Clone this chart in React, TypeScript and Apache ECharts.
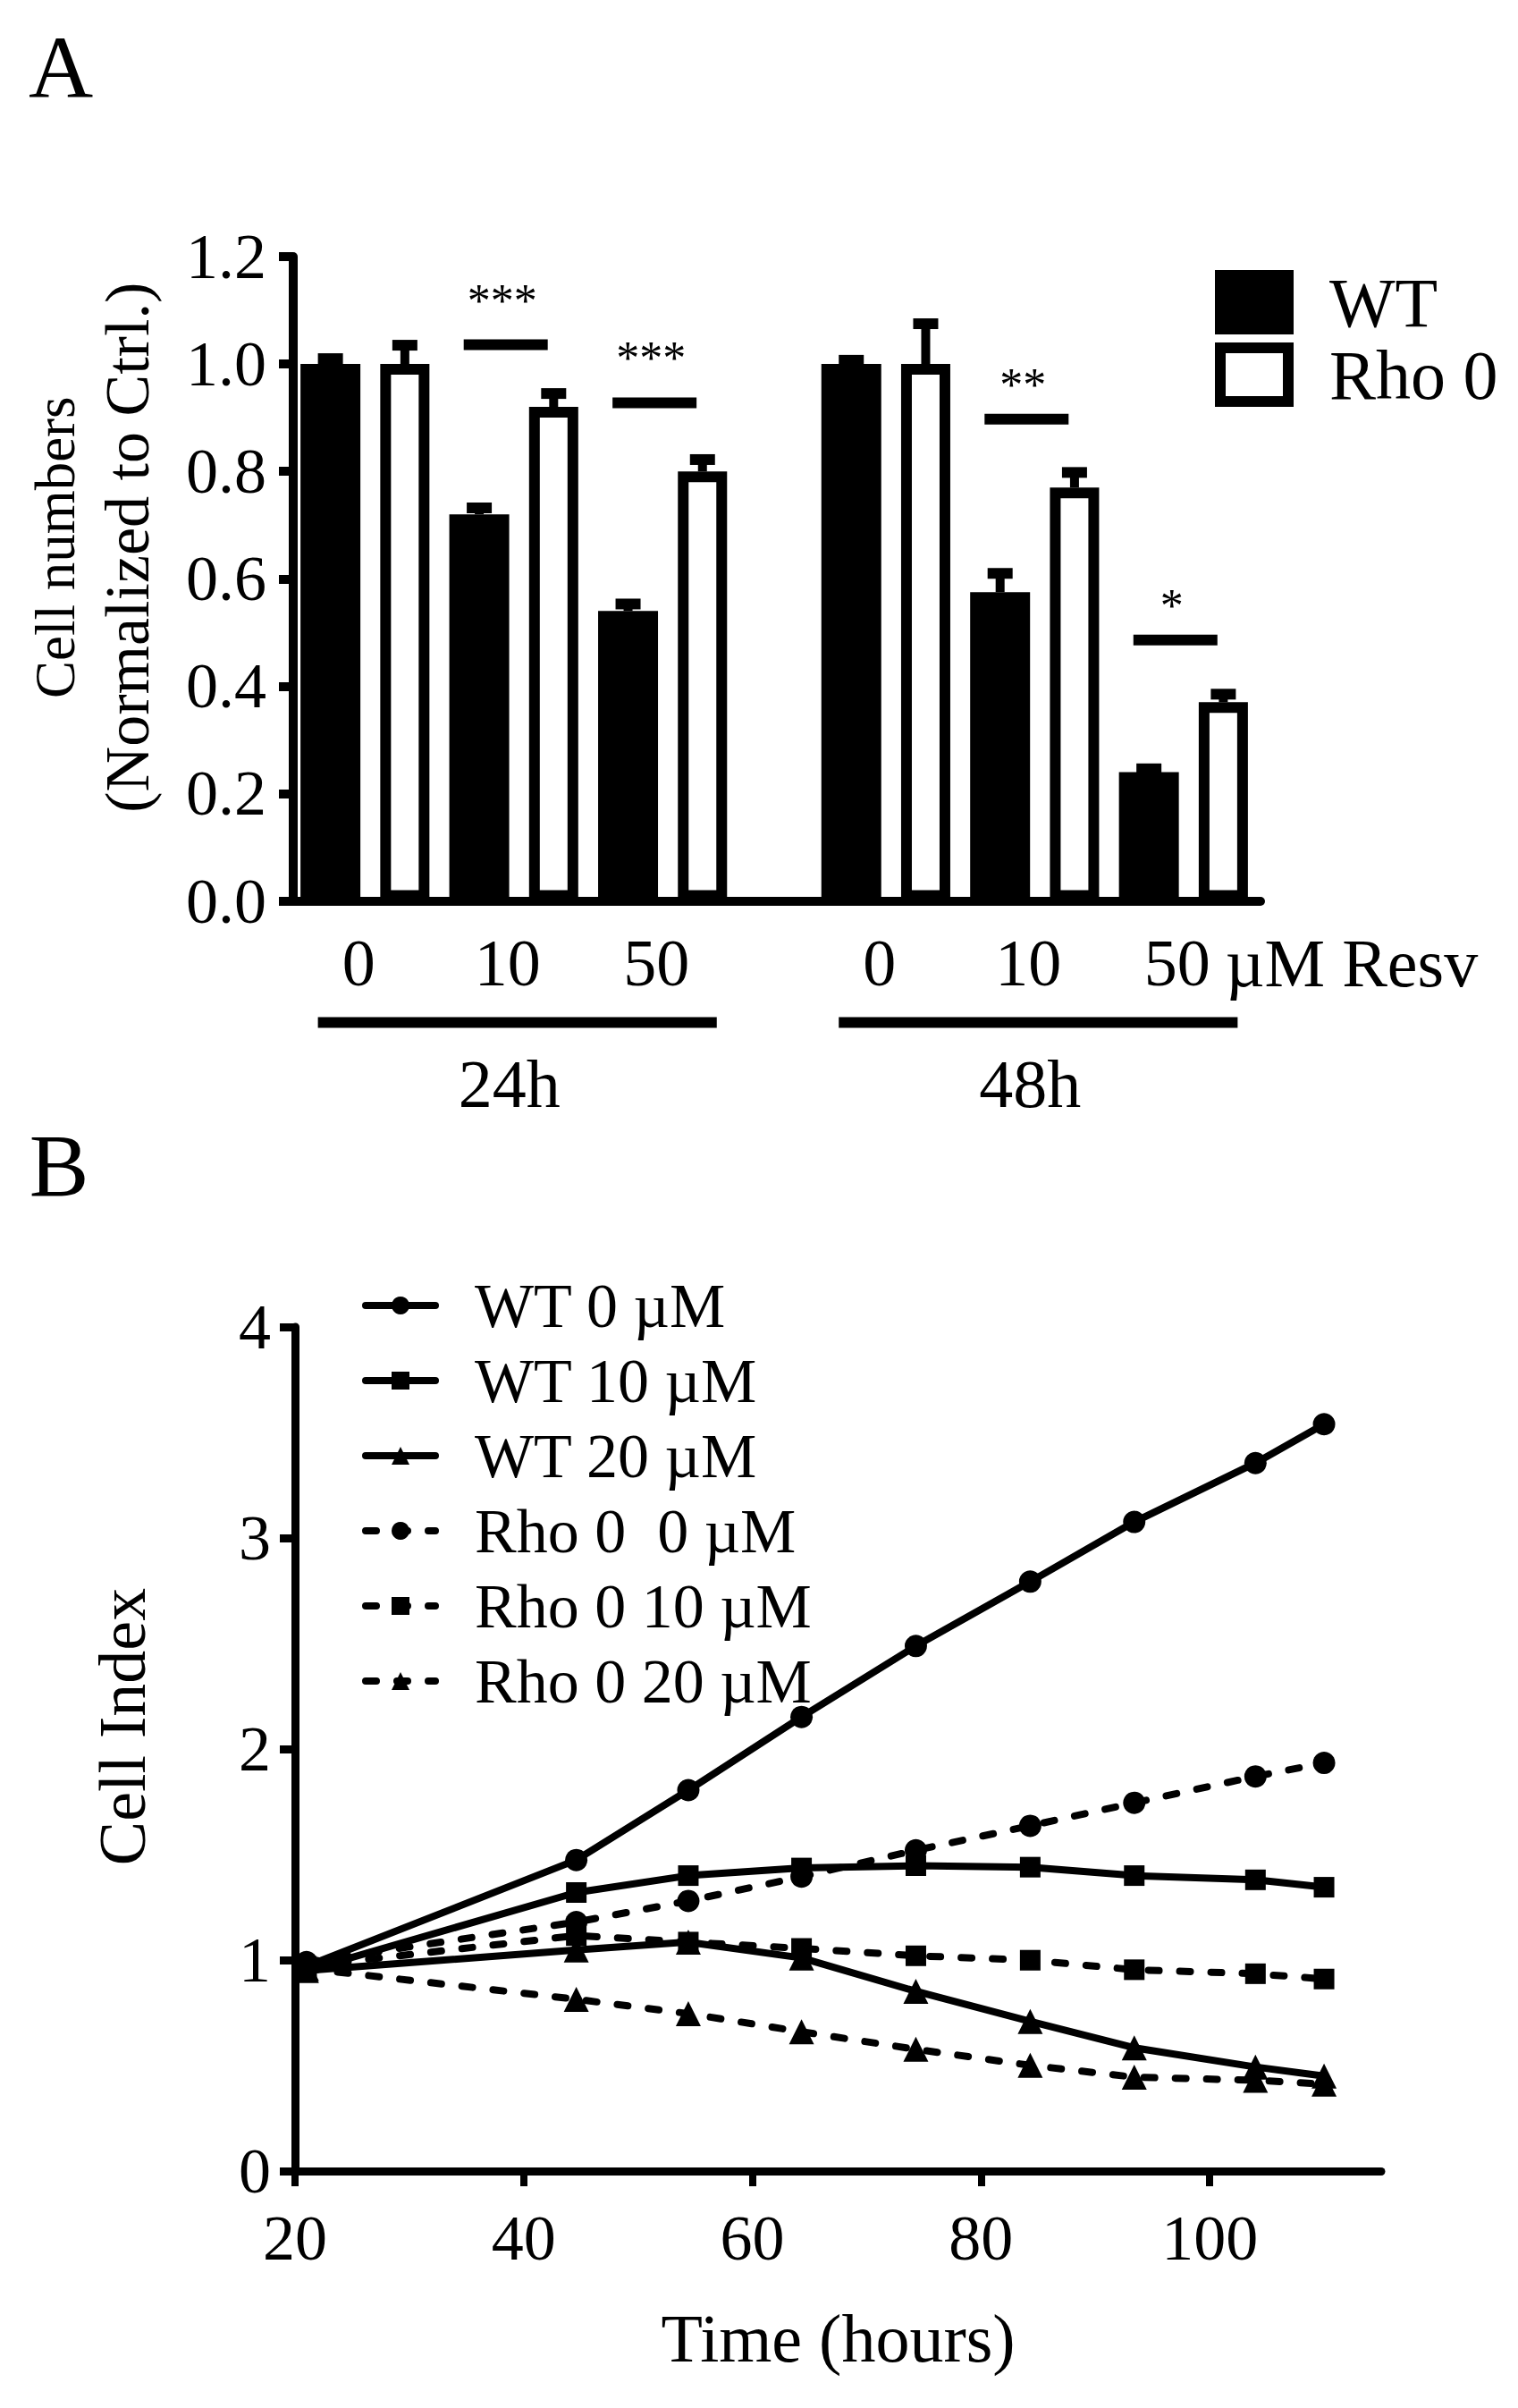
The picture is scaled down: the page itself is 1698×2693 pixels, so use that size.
import React, { useEffect, useRef } from "react";
import * as echarts from "echarts";

// ---------- Panel A data ----------
const doseLabels = ["0", "10", "50", "0", "10", "50"];
const unitLabel = "µM Resv";
const timeLabels = ["24h", "48h"];
const wtMeans = [1.0, 0.72, 0.54, 1.0, 0.575, 0.24];
const wtErr = [0.01, 0.012, 0.013, 0.007, 0.035, 0.006];
const rhoMeans = [1.0, 0.92, 0.8, 1.0, 0.77, 0.37];
const rhoErr = [0.035, 0.025, 0.022, 0.075, 0.028, 0.015];
const sigLabels = ["***", "***", "**", "*"];
const sigGroups = [1, 2, 4, 5];
const sigHeights = [1.036, 0.9275, 0.8975, 0.486];
const sigStarHeights = [1.1325, 1.026, 0.976, 0.564];

// ---------- Panel B data ----------
const hours = [21, 44.6, 54.4, 64.3, 74.3, 84.3, 93.4, 104, 110];
const wt0 = [0.97, 1.474, 1.805, 2.152, 2.488, 2.793, 3.076, 3.355, 3.539];
const wt10 = [0.95, 1.32, 1.4, 1.436, 1.447, 1.44, 1.4, 1.38, 1.345];
const wt20 = [0.95, 1.048, 1.085, 1.01, 0.852, 0.709, 0.584, 0.493, 0.45];
const rho0 = [0.99, 1.18, 1.28, 1.395, 1.52, 1.636, 1.745, 1.87, 1.934];
const rho10 = [0.97, 1.116, 1.085, 1.055, 1.02, 0.999, 0.954, 0.935, 0.91];
const rho20 = [0.96, 0.814, 0.746, 0.66, 0.577, 0.501, 0.445, 0.43, 0.412];
const timeTicks = [20, 40, 60, 80, 100];
const lineNames = ["WT 0 µM", "WT 10 µM", "WT 20 µM", "Rho 0 \u00a00 µM", "Rho 0 10 µM", "Rho 0 20 µM"];
const lineValues = [wt0, wt10, wt20, rho0, rho10, rho20];
const lineSymbols = ["circle", "rect", "triangle", "circle", "rect", "triangle"];
const lineDashed = [false, false, false, true, true, true];

const FONT = "'Liberation Serif', 'Times New Roman', serif";
const SLOTS = 13;
const wtSlot = (g: number) => (g < 3 ? 2 * g : 2 * g + 1);
const slotNames = Array.from({ length: SLOTS }, (_, i) => "s" + i);

function buildOption(): any {
  const wtBar: any[] = slotNames.map(() => "-");
  const rhoBar: any[] = slotNames.map(() => "-");
  wtMeans.forEach((v, g) => (wtBar[wtSlot(g)] = v));
  rhoMeans.forEach((v, g) => (rhoBar[wtSlot(g) + 1] = v));

  const errData = [
    ...wtMeans.map((v, g) => [wtSlot(g), v, wtErr[g]]),
    ...rhoMeans.map((v, g) => [wtSlot(g) + 1, v, rhoErr[g]]),
  ];
  const sigData = sigGroups.map((g, i) => [wtSlot(g), sigHeights[i], wtSlot(g) + 1, sigStarHeights[i]]);
  const doseData = doseLabels.map((_, g) => [wtSlot(g), 0, wtSlot(g) + 1]);
  const timeData = timeLabels.map((_, t) => [wtSlot(3 * t), 0, wtSlot(3 * t + 2) + 1]);

  const axisColor = "#000";
  const tickLabel = { color: "#000", fontSize: 72, fontFamily: FONT };

  const lineSeries = lineNames.map((name, k) => ({
    type: "line",
    name,
    xAxisIndex: 2,
    yAxisIndex: 1,
    data: hours.map((h, i) => [h, lineValues[k][i]]),
    symbol: lineSymbols[k],
    symbolSize: lineSymbols[k] === "circle" ? 25 : lineSymbols[k] === "rect" ? 23 : [28, 28],
    showSymbol: true,
    itemStyle: { color: "#000" },
    lineStyle: {
      color: "#000",
      width: 8,
      type: lineDashed[k] ? [12, 23] : "solid",
      cap: "round",
    },
    z: 3,
  }));

  return {
    animation: false,
    backgroundColor: "#fff",
    textStyle: { fontFamily: FONT, color: "#000" },
    grid: [
      { left: 328, top: 287, width: 1082, height: 720.5 },
      { left: 330, top: 1484, width: 1215, height: 944 },
    ],
    xAxis: [
      {
        type: "category",
        gridIndex: 0,
        data: slotNames,
        axisLine: { lineStyle: { color: axisColor, width: 10 } },
        axisTick: { show: false },
        axisLabel: { show: false },
      },
      { type: "category", gridIndex: 0, data: slotNames, show: false },
      {
        type: "value",
        gridIndex: 1,
        min: 20,
        max: 115,
        interval: 20,
        splitLine: { show: false },
        axisLine: { lineStyle: { color: axisColor, width: 9 } },
        axisTick: { length: 17, lineStyle: { width: 8, color: axisColor }, customValues: timeTicks },
        axisLabel: { ...tickLabel, margin: 39, lineHeight: 72, customValues: timeTicks },
        name: "Time (hours)",
        nameLocation: "middle",
        nameGap: 149,
        nameTextStyle: { fontSize: 76, fontFamily: FONT, color: "#000", lineHeight: 76 },
      },
    ],
    yAxis: [
      {
        type: "value",
        gridIndex: 0,
        min: 0,
        max: 1.2,
        interval: 0.2,
        splitLine: { show: false },
        axisLine: { show: true, lineStyle: { color: axisColor, width: 10 } },
        axisTick: { show: true, length: 16, lineStyle: { width: 10, color: axisColor } },
        axisLabel: { ...tickLabel, margin: 30, formatter: (v: number) => v.toFixed(1) },
        name: "{a|Cell numbers}\n{b|(Normalized to Ctrl.)}",
        nameLocation: "middle",
        nameRotate: 90,
        nameGap: 146,
        nameTextStyle: {
          fontFamily: FONT,
          color: "#000",
          padding: [0, 0, 0, 70],
          rich: {
            a: { fontSize: 63, lineHeight: 80, fontFamily: FONT, color: "#000" },
            b: { fontSize: 70, lineHeight: 80, fontFamily: FONT, color: "#000" },
          },
        },
      },
      {
        type: "value",
        gridIndex: 1,
        min: 0,
        max: 4,
        interval: 1,
        splitLine: { show: false },
        axisLine: { show: true, lineStyle: { color: axisColor, width: 9 } },
        axisTick: { show: true, length: 17, lineStyle: { width: 9, color: axisColor } },
        axisLabel: { ...tickLabel, margin: 27 },
        name: "Cell Index",
        nameLocation: "middle",
        nameRotate: 90,
        nameGap: 156,
        nameTextStyle: { fontSize: 74, fontFamily: FONT, color: "#000", lineHeight: 74, padding: [0, 0, 0, 50] },
      },
    ],
    legend: [
      {
        orient: "vertical",
        left: 1354,
        top: 294,
        icon: "rect",
        itemWidth: 76,
        itemHeight: 60,
        itemGap: 3,
        data: [
          { name: "WT", itemStyle: { color: "#000", borderColor: "#000", borderWidth: 12 } },
          { name: "Rho 0", itemStyle: { color: "#fff", borderColor: "#000", borderWidth: 12 } },
        ],
        textStyle: { fontSize: 78, fontFamily: FONT, color: "#000", padding: [0, 0, 0, 41] },
      },
      {
        orient: "vertical",
        left: 400,
        top: 1420,
        itemWidth: 78,
        itemHeight: 25,
        itemGap: 14,
        lineStyle: { width: 8, cap: "round" },
        data: lineNames,
        textStyle: { fontSize: 70, fontFamily: FONT, color: "#000", padding: [0, 0, 0, 39] },
      },
    ],
    graphic: [
      { type: "text", x: 68, y: 75, style: { text: "A", fontSize: 100, fontFamily: FONT, fill: "#000", align: "center", verticalAlign: "middle" } },
      { type: "text", x: 66, y: 1303, style: { text: "B", fontSize: 100, fontFamily: FONT, fill: "#000", align: "center", verticalAlign: "middle" } },
    ],
    series: [
      {
        type: "bar",
        name: "WT",
        xAxisIndex: 0,
        yAxisIndex: 0,
        data: wtBar,
        barWidth: 67,
        itemStyle: { color: "#000" },
        z: 2,
      },
      {
        type: "bar",
        name: "Rho 0",
        xAxisIndex: 1,
        yAxisIndex: 0,
        data: rhoBar,
        barWidth: 55,
        itemStyle: { color: "#fff", borderColor: "#000", borderWidth: 12 },
        z: 2,
      },
      {
        type: "custom",
        name: "errors",
        xAxisIndex: 0,
        yAxisIndex: 0,
        clip: false,
        z: 4,
        data: errData,
        encode: { x: 0, y: 1 },
        renderItem: (params: any, api: any) => {
          const base = api.coord([api.value(0), api.value(1)]);
          const top = api.coord([api.value(0), api.value(1) + api.value(2)]);
          return {
            type: "group",
            children: [
              { type: "line", shape: { x1: base[0], y1: base[1], x2: base[0], y2: top[1] }, style: { stroke: "#000", lineWidth: 10 } },
              { type: "line", shape: { x1: base[0] - 14, y1: top[1], x2: base[0] + 14, y2: top[1] }, style: { stroke: "#000", lineWidth: 12 } },
            ],
          };
        },
      },
      {
        type: "custom",
        name: "significance",
        xAxisIndex: 0,
        yAxisIndex: 0,
        clip: false,
        z: 4,
        data: sigData,
        encode: { x: 0, y: 1 },
        renderItem: (params: any, api: any) => {
          const a = api.coord([api.value(0), api.value(1)]);
          const b = api.coord([api.value(2), api.value(1)]);
          const s = api.coord([api.value(0), api.value(3)]);
          const mid = (a[0] + b[0]) / 2 - 12;
          return {
            type: "group",
            children: [
              { type: "line", shape: { x1: mid - 47, y1: a[1], x2: mid + 47, y2: a[1] }, style: { stroke: "#000", lineWidth: 12 } },
              {
                type: "text",
                x: mid - 4,
                y: s[1] + 9,
                style: { text: sigLabels[params.dataIndex], fontSize: 52, fontFamily: FONT, fill: "#000", align: "center", verticalAlign: "middle" },
              },
            ],
          };
        },
      },
      {
        type: "custom",
        name: "doses",
        xAxisIndex: 0,
        yAxisIndex: 0,
        clip: false,
        z: 4,
        data: doseData,
        encode: { x: 0, y: 1 },
        renderItem: (params: any, api: any) => {
          const a = api.coord([api.value(0), 0]);
          const b = api.coord([api.value(2), 0]);
          const cx = (a[0] + b[0]) / 2 - 10;
          const children: any[] = [
            {
              type: "text",
              x: cx,
              y: a[1] + 69,
              style: { text: doseLabels[params.dataIndex], fontSize: 74, fontFamily: FONT, fill: "#000", align: "center", verticalAlign: "middle" },
            },
          ];
          if (params.dataIndex === doseLabels.length - 1) {
            children.push({
              type: "text",
              x: cx + 54,
              y: a[1] + 69,
              style: { text: unitLabel, fontSize: 76, fontFamily: FONT, fill: "#000", align: "left", verticalAlign: "middle" },
            });
          }
          return { type: "group", children };
        },
      },
      {
        type: "custom",
        name: "times",
        xAxisIndex: 0,
        yAxisIndex: 0,
        clip: false,
        z: 4,
        data: timeData,
        encode: { x: 0, y: 1 },
        renderItem: (params: any, api: any) => {
          const a = api.coord([api.value(0), 0]);
          const b = api.coord([api.value(2), 0]);
          return {
            type: "group",
            children: [
              { type: "line", shape: { x1: a[0] - 14, y1: a[1] + 136, x2: b[0] + 16, y2: a[1] + 136 }, style: { stroke: "#000", lineWidth: 12 } },
              {
                type: "text",
                x: (a[0] + b[0]) / 2 - 8,
                y: a[1] + 204,
                style: { text: timeLabels[params.dataIndex], fontSize: 76, fontFamily: FONT, fill: "#000", align: "center", verticalAlign: "middle" },
              },
            ],
          };
        },
      },
      ...lineSeries,
    ],
  };
}

export default function App() {
  const ref = useRef<HTMLDivElement>(null);
  useEffect(() => {
    document.body.style.margin = "0";
    if (!ref.current) return;
    const chart = echarts.init(ref.current, undefined, { renderer: "svg" });
    chart.setOption(buildOption());
    return () => chart.dispose();
  }, []);
  return <div ref={ref} style={{ width: 1698, height: 2693, background: "#fff" }} />;
}
